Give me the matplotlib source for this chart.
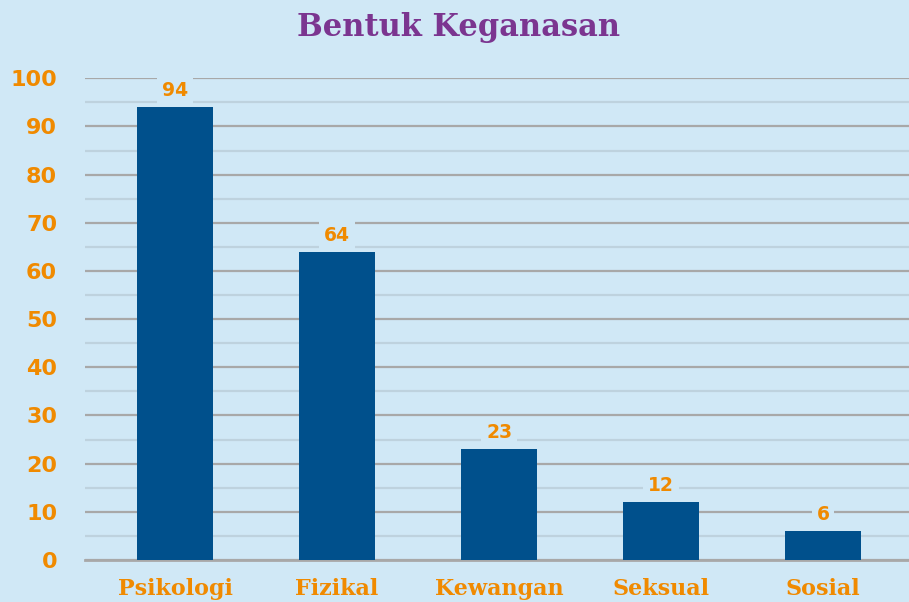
import matplotlib.pyplot as plt
from matplotlib.ticker import MultipleLocator

categories = ['Psikologi', 'Fizikal', 'Kewangan', 'Seksual', 'Sosial']
values = [94, 64, 23, 12, 6]
y_ticks = [0, 10, 20, 30, 40, 50, 60, 70, 80, 90, 100]

bg = '#D0E8F6'
bar_color = '#00508C'
orange = '#F08A00'
purple = '#7B3590'

fig = plt.figure(figsize=(9.09, 6.02), dpi=100, facecolor=bg)
ax = fig.add_axes([0.0935, 0.0698, 0.9065, 0.8002])
ax.set_facecolor(bg)

x = range(len(categories))
bars = ax.bar(x, values, width=0.47, color=bar_color, zorder=3)

ax.set_ylim(0, 100)
ax.set_xlim(-0.556, 4.53)
ax.yaxis.set_major_locator(MultipleLocator(10))
ax.yaxis.set_minor_locator(MultipleLocator(5))
ax.grid(axis='y', which='major', color='#A8A8A8', linewidth=1.6, zorder=1)
ax.grid(axis='y', which='minor', color='#BED2DE', linewidth=1.6, zorder=1)
ax.set_axisbelow(True)

for s in ['top', 'right', 'left']:
    ax.spines[s].set_visible(False)
ax.spines['bottom'].set_color('#A8A8A8')
ax.spines['bottom'].set_linewidth(2)

ax.set_yticks(y_ticks)
ax.set_yticklabels([str(t) for t in y_ticks], color=orange, fontsize=16,
                   fontweight='bold', family='DejaVu Sans')
ax.tick_params(axis='y', which='both', length=0, pad=20)
ax.set_xticks(list(x))
ax.set_xticklabels(categories, color=orange, fontsize=16, fontweight='bold',
                   family='DejaVu Serif')
ax.tick_params(axis='x', length=0, pad=13)

# value labels sit on a small bg-coloured box that breaks the gridline
for xi, v in zip(x, values):
    ax.annotate(str(v), (xi, v), xytext=(0, 5), textcoords='offset points',
                ha='center', va='bottom', color=orange, fontsize=13.5,
                fontweight='bold', zorder=4,
                bbox=dict(boxstyle='square,pad=0.25', facecolor=bg,
                          edgecolor='none'))

fig.text(0.505, 0.955, 'Bentuk Keganasan', ha='center', va='center',
         color=purple, fontsize=22, fontweight='bold', family='DejaVu Serif')

fig.savefig('out.png', dpi=100, facecolor=bg)
